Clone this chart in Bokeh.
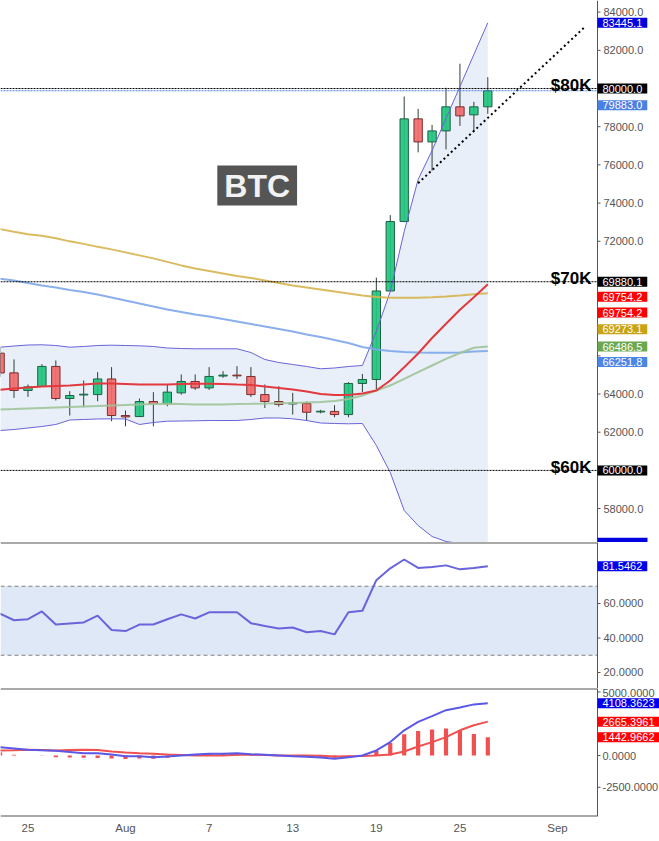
import numpy as np
import pandas as pd
from bokeh.plotting import figure
from bokeh.layouts import column
from bokeh.models import (ColumnDataSource, Range1d, Span, Label, FixedTicker,
                          NumeralTickFormatter, BoxAnnotation)
from bokeh.embed import file_html
from bokeh.resources import INLINE

# ---------------- data ----------------
start_date = "2024-07-23"
open_ = [66140, 65108, 64185, 64395, 65445, 63765, 63950, 63970, 64789, 62873,
         62820, 63607, 63500, 64060, 64657, 64320, 64940, 64990, 64920, 63970,
         63607, 63480, 63500, 63060, 63090, 62925, 64552, 64762, 69397, 73034,
         78410, 77202, 77780, 79040, 78620, 79040]
high = [66420, 65812, 64500, 65566, 65760, 64148, 64710, 65145, 65408, 63135,
        63765, 64100, 64500, 65025, 65025, 65408, 65198, 65460, 65408, 64500,
        64410, 64060, 63607, 63170, 63413, 64620, 65055, 70095, 73370, 79580,
        78934, 78095, 80037, 81297, 79302, 80593]
low = [64900, 63796, 63849, 64380, 63660, 62873, 63307, 63623, 62573, 62310,
       62800, 62310, 63360, 63970, 64215, 64215, 64850, 64789, 63849, 63270,
       63340, 62925, 62610, 62990, 62782, 62782, 64100, 64237, 69380, 73000,
       76656, 75696, 76814, 78042, 77727, 78672]
close = [65100, 64184, 64374, 65445, 63765, 63922, 63990, 64789, 62873, 62800,
         63607, 63500, 64100, 64657, 64320, 64920, 64990, 64950, 63970, 63607,
         63450, 63520, 63045, 63100, 62925, 64552, 64762, 69397, 73034, 78410,
         77202, 77780, 79040, 78567, 79040, 79883.0]

ma_red = [64221, 64289, 64341, 64394, 64420, 64446, 64498, 64551, 64551, 64525,
          64498, 64498, 64498, 64525, 64535, 64535, 64525, 64498, 64472, 64394,
          64315, 64237, 64132, 64001, 63949, 63949, 64027, 64184, 64708, 65404,
          66122, 66934, 67677, 68411, 69070, 69754.2]
ma_green = [63189, 63215, 63242, 63268, 63294, 63320, 63346, 63372, 63399, 63425,
            63451, 63477, 63488, 63477, 63451, 63451, 63451, 63477, 63488, 63503,
            63519, 63530, 63556, 63582, 63634, 63739, 63922, 64184, 64446, 64797,
            65143, 65494, 65844, 66148, 66420, 66486.5]
ma_blue = [70043, 69948, 69817, 69686, 69581, 69450, 69345, 69213, 69056, 68898,
           68741, 68583, 68426, 68295, 68164, 68059, 67927, 67796, 67665, 67534,
           67402, 67271, 67114, 66982, 66825, 66668, 66458, 66326, 66248, 66195,
           66169, 66158, 66158, 66180, 66221, 66251.8]
ma_gold = [72636, 72494, 72363, 72284, 72153, 71995, 71864, 71707, 71575, 71418,
           71260, 71103, 70919, 70736, 70578, 70447, 70316, 70184, 70079, 69948,
           69817, 69686, 69581, 69476, 69371, 69266, 69161, 69082, 69045, 69045,
           69045, 69066, 69108, 69161, 69224, 69273.1]
bb_upper = [66452, 66515, 66567, 66578, 66541, 66452, 66489, 66541, 66557, 66541,
            66525, 66489, 66410, 66384, 66368, 66368, 66368, 66368, 66174, 65808,
            65651, 65546, 65441, 65321, 65363, 65441, 65494, 67274, 69369, 72511,
            75234, 76753, 78429, 80105, 81781, 83445.1]
bb_lower = [62089, 62142, 62220, 62299, 62404, 62639, 62666, 62692, 62702, 62692,
            62404, 62508, 62576, 62587, 62597, 62613, 62613, 62613, 62666, 62744,
            62744, 62702, 62613, 62482, 62456, 62441, 62456, 61304, 59890, 57900,
            57114, 56538, 56276, 56172, 56140, 56080]

rsi = [54.1, 50.3, 50.9, 55.4, 47.8, 48.4, 49.0, 53.0, 44.6, 44.0,
       47.8, 47.8, 50.9, 53.7, 51.3, 54.9, 54.9, 54.9, 48.6, 46.9,
       45.5, 46.1, 43.3, 44.0, 42.1, 54.9, 55.8, 73.5, 80.4, 85.5,
       80.6, 81.1, 82.1, 79.8, 80.6, 81.5462]
rsi_levels = [30, 70]

macd = [659, 555, 452, 410, 373, 280, 183, 183, 79, -56,
        -56, -135, -79, 0, 79, 135, 135, 183, 103, 56,
        0, -56, -103, -159, -262, -135, 0, 397, 1056, 1984,
        2643, 3095, 3571, 3786, 4024, 4108.3623]
signal = [397, 420, 452, 430, 397, 430, 452, 437, 317, 238,
          183, 135, 79, 40, 0, 0, 0, 56, 56, 32,
          0, 0, 0, -24, -79, -56, -40, 0, 79, 317,
          714, 1056, 1452, 1984, 2381, 2665.3961]
hist = [260, 60, 0, -20, -130, -150, -180, -200, -240, -280,
        -240, -260, -170, -40, 80, 135, 135, 127, 47, 24,
        0, -56, -103, -135, -183, -80, 40, 397, 977, 1667,
        1929, 2039, 2119, 1950, 1690, 1442.9662]

level_values = [80000.0, 69880.1, 60000.0]
level_texts = ["$80K", "$70K", "$60K"]
trend_dates = ["2024-08-22", "2024-09-03"]
trend_prices = [75040, 83250]

price_ticks = [58000, 60000, 62000, 64000, 66000, 68000, 70000, 72000,
               74000, 76000, 78000, 80000, 82000, 84000]
price_ticks_hidden = [60000, 66000, 68000, 70000, 80000]   # under the value tags
rsi_ticks = [20, 40, 60, 80]
rsi_ticks_hidden = [80]
macd_ticks = [-2500, 0, 2500, 5000]
macd_ticks_hidden = [2500]

tick_dates = ["2024-07-25", "2024-08-01", "2024-08-07", "2024-08-13",
              "2024-08-19", "2024-08-25", "2024-09-01"]
tick_labels = ["25", "Aug", "7", "13", "19", "25", "Sep"]

# ---------------- geometry / helpers ----------------
DAY = 86400000.0
PX_PER_DAY = 13.935
FRAME_W = 659
AXIS_PX = 597            # where the price scale line sits
def ms(t):
    return pd.Timestamp(t).value / 1e6

dates = pd.date_range(start_date, periods=len(close), freq="D")
xs = np.array([ms(d) for d in dates])
aug1 = ms("2024-08-01")
x_start = aug1 - 125 / PX_PER_DAY * DAY
x_axis = x_start + AXIS_PX / PX_PER_DAY * DAY
x_tick = x_axis + 3 / PX_PER_DAY * DAY
x_end = x_start + FRAME_W / PX_PER_DAY * DAY
xr = Range1d(x_start, x_end)

FONT = "Liberation Sans"
AX_COL = "#555555"

def style_yaxis(fig, fmt, ticks, hidden, label_px=603):
    ax = fig.yaxis[0]
    ax.ticker = FixedTicker(ticks=ticks)
    ax.formatter = NumeralTickFormatter(format=fmt)
    ax.major_label_overrides = {t: "" for t in hidden}
    ax.major_label_text_font = FONT
    ax.major_label_text_font_size = "11px"
    ax.major_label_text_color = AX_COL
    ax.axis_line_color = None
    ax.major_tick_line_color = None
    ax.minor_tick_line_color = None
    ax.major_tick_in = 0
    ax.major_tick_out = 0
    ax.major_label_standoff = label_px - FRAME_W
    # small tick marks just right of the scale line
    fig.segment(x0=[x_axis] * len(ticks), x1=[x_tick] * len(ticks),
                y0=ticks, y1=ticks, line_color=AX_COL, line_width=1)

def make_fig(fh, yr, **kw):
    f = figure(frame_width=FRAME_W, frame_height=fh, x_range=xr, y_range=yr,
               y_axis_location="right", output_backend="svg",
               toolbar_location=None, min_border_left=0, min_border_right=0,
               min_border_top=0, background_fill_color="white",
               border_fill_color="white", outline_line_color=None, **kw)
    f.grid.grid_line_color = None
    f.add_layout(Span(location=x_axis, dimension="height", line_color=AX_COL,
                      line_width=1))
    return f

def hline(fig, y, **kw):
    fig.segment(x0=[x_start], x1=[x_axis], y0=[y], y1=[y], **kw)

def tag(fig, v, color, text, dy=0):
    fig.add_layout(Label(x=x_axis, y=v, x_offset=0, y_offset=dy, text=text,
                         text_font=FONT, text_font_size="11px", text_color="white",
                         text_align="left", text_baseline="middle",
                         background_fill_color=color, padding=(5, 1)))

# ---------------- price panel ----------------
y1r = Range1d(56224, 84609)
p1 = make_fig(542, y1r, x_axis_location=None, min_border_bottom=0)
style_yaxis(p1, "0.0", price_ticks, price_ticks_hidden)

src = ColumnDataSource(dict(
    x=xs, open=open_, high=high, low=low, close=close,
    top=[max(o, c) for o, c in zip(open_, close)],
    bottom=[min(o, c) for o, c in zip(open_, close)],
    fill=["#1fc57f" if c >= o else "#f26b6b" for o, c in zip(open_, close)],
    edge=["#1d6244" if c >= o else "#7a2d2d" for o, c in zip(open_, close)],
))

p1.varea(x=xs, y1=bb_lower, y2=bb_upper, fill_color="#e8eff8")
p1.segment(x0="x", y0="high", x1="x", y1="low", source=src,
           line_color="#2f3f37", line_width=1)
p1.vbar(x="x", width=0.6 * DAY, top="top", bottom="bottom", source=src,
        fill_color="fill", line_color="edge", fill_alpha=0.92, line_width=1)
p1.line(xs, bb_upper, line_color="#6b63d8", line_width=1)
p1.line(xs, bb_lower, line_color="#6b63d8", line_width=1)
p1.line(xs, ma_gold, line_color="#d6b44e", line_width=2, line_alpha=0.9)
p1.line(xs, ma_blue, line_color="#7ea6ea", line_width=2, line_alpha=0.9)
p1.line(xs, ma_green, line_color="#9fc398", line_width=2, line_alpha=0.9)
p1.line(xs, ma_red, line_color="#e2393f", line_width=2)

p1.line([ms(d) for d in trend_dates], trend_prices, line_color="black",
        line_width=2, line_dash="2 3")

for v in level_values:
    hline(p1, v, line_color="black", line_width=1, line_dash="2 1")
hline(p1, close[-1], line_color="#4a80e4", line_width=1, line_dash="2 1")

for v, t in zip(level_values, level_texts):
    p1.add_layout(Label(x=x_axis, y=v, x_offset=-6, y_offset=3, text=t,
                        text_font=FONT, text_font_size="17px",
                        text_font_style="bold", text_color="black",
                        text_align="right", text_baseline="alphabetic"))

p1.add_layout(Label(x=aug1 + 9.45 * DAY, y=74920, text="BTC", text_font=FONT,
                    text_font_size="32px", text_font_style="bold",
                    text_color="#f2f2f2", text_align="center",
                    text_baseline="middle", background_fill_color="#555555",
                    padding=(7, 2)))

price_tags = [
    (bb_upper[-1], "#0000e0", 0),
    (level_values[0], "#000000", 0),
    (close[-1], "#4a80e4", -14.5),
    (level_values[1], "#000000", 0),
    (ma_red[-1], "#ff0000", -12.7),
    (ma_red[-1], "#ff0000", -28.4),
    (ma_gold[-1], "#c9a316", -36),
    (ma_green[-1], "#6aa84f", 0),
    (ma_blue[-1], "#4a86e8", -11),
    (level_values[2], "#000000", 0),
]
for v, c, dy in price_tags:
    tag(p1, v, c, f"{v:.1f}", dy)
# lower-band tag: only its top edge shows above the panel bottom
price_per_px = (y1r.end - y1r.start) / 542
p1.add_layout(BoxAnnotation(left=x_axis, right=x_axis + 50 / PX_PER_DAY * DAY,
                            top=bb_lower[-1] + 7.5 * price_per_px,
                            bottom=bb_lower[-1] - 7.5 * price_per_px,
                            fill_color="#0000e0", fill_alpha=1, line_color=None))

# ---------------- RSI panel ----------------
y2r = Range1d(10.72, 95.36)
p2 = make_fig(146, y2r, x_axis_location=None, min_border_bottom=0)
style_yaxis(p2, "0.0000", rsi_ticks, rsi_ticks_hidden)
p2.add_layout(BoxAnnotation(bottom=rsi_levels[0], top=rsi_levels[1], right=x_axis,
                            fill_color="#dee8f6", fill_alpha=1,
                            line_color=None, level="underlay"))
for v in rsi_levels:
    hline(p2, v, line_color="#808080", line_width=1, line_dash="4 3")
p2.line(xs, rsi, line_color="#6a64dc", line_width=2)
hline(p2, y2r.end, line_color=AX_COL, line_width=2)
tag(p2, rsi[-1], "#0000ee", f"{rsi[-1]:.4f}")

# ---------------- MACD panel ----------------
y3r = Range1d(-4800, 5275)
p3 = make_fig(128, y3r, min_border_bottom=25)
style_yaxis(p3, "0.0000", macd_ticks, macd_ticks_hidden, label_px=602)
xa = p3.xaxis[0]
tick_ms = [ms(t) for t in tick_dates]
xa.ticker = FixedTicker(ticks=tick_ms)
xa.major_label_overrides = {t: l for t, l in zip(tick_ms, tick_labels)}
xa.major_tick_line_color = None
xa.minor_tick_line_color = None
xa.major_tick_out = 0
xa.major_tick_in = 0
xa.axis_line_color = None
xa.major_label_text_font = FONT
xa.major_label_text_font_size = "11.5px"
xa.major_label_text_color = AX_COL
xa.major_label_standoff = 5

p3.vbar(x=xs, width=0.3 * DAY, top=hist, bottom=0, fill_color="#ef5050",
        line_color=None)
p3.line(xs, signal, line_color="#f05050", line_width=2)
p3.line(xs, macd, line_color="#5a58e6", line_width=2)
hline(p3, y3r.end, line_color=AX_COL, line_width=2)
hline(p3, y3r.start, line_color=AX_COL, line_width=2)
tag(p3, macd[-1], "#0000ee", f"{macd[-1]:.4f}")
tag(p3, signal[-1], "#ff0000", f"{signal[-1]:.4f}")
tag(p3, hist[-1], "#ff0000", f"{hist[-1]:.4f}")

layout = column(p1, p2, p3, spacing=0)
open("out.html", "w").write(file_html(layout, INLINE))
